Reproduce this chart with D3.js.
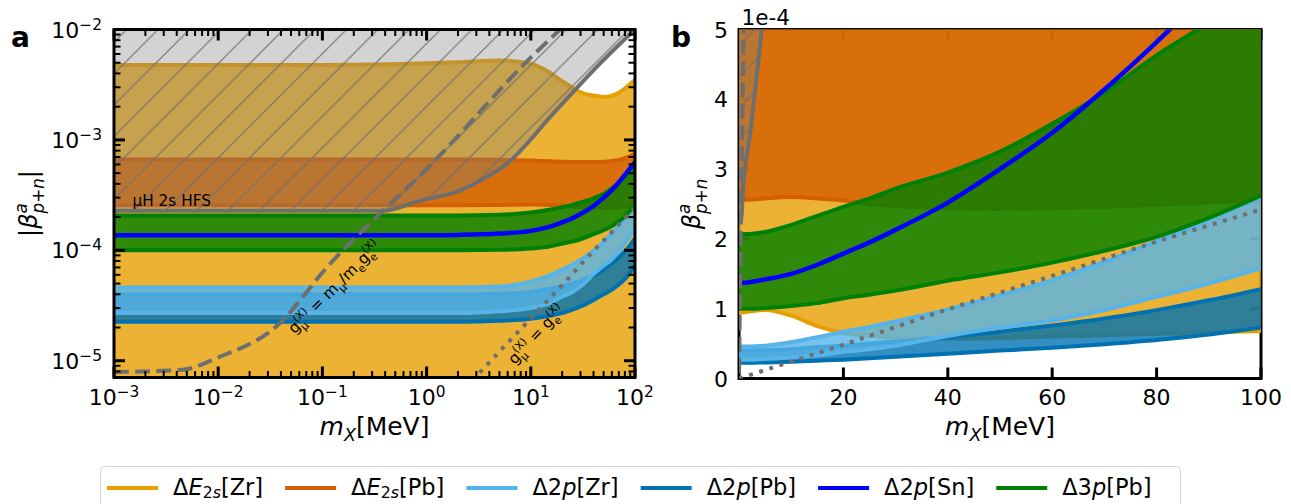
<!DOCTYPE html>
<html><head><meta charset="utf-8">
<script src="https://cdn.jsdelivr.net/npm/d3@7/dist/d3.min.js"></script>
<style>html,body{margin:0;padding:0;background:#fff;overflow:hidden}svg{display:block}</style>
</head><body>
<svg id="chart" width="1291" height="504"></svg>
<script>
// ---------------- data (beta in units of 1e-4, mass in MeV) ----------------
const MASS = [0.001,0.01,0.1,1,2,5,10,15,20,25,30,40,50,60,70,80,90,100];
const E2S_ZR_LO = [0.94,0.94,0.94,0.95,0.96,0.98,0.90,0.75,0.65,0.61,0.59,0.57,0.58,0.60,0.62,0.64,0.66,0.68];
const E2S_ZR_HI = [47.6,47.6,47.8,49.5,50.5,52.5,49.0,41.0,34.0,29.8,27.0,25.2,24.5,25.2,26.8,29.2,32.0,34.8];
const E2S_PB_LO = [2.56,2.56,2.56,2.56,2.56,2.58,2.60,2.58,2.55,2.50,2.47,2.44,2.43,2.44,2.46,2.49,2.52,2.55];
const E2S_PB_HI = [6.65,6.65,6.65,6.65,6.65,6.60,6.50,6.40,6.35,6.30,6.30,6.30,6.35,6.45,6.60,6.85,7.15,7.50];
const P2_ZR_LO = [0.27,0.27,0.27,0.27,0.27,0.28,0.30,0.33,0.38,0.42,0.47,0.61,0.73,0.83,0.98,1.17,1.36,1.58];
const P2_ZR_HI = [0.46,0.46,0.46,0.46,0.46,0.47,0.52,0.59,0.67,0.74,0.82,0.99,1.19,1.41,1.67,1.97,2.27,2.60];
const P2_PB_LO = [0.225,0.225,0.225,0.225,0.225,0.23,0.24,0.255,0.27,0.29,0.31,0.355,0.40,0.44,0.49,0.55,0.63,0.73];
const P2_PB_HI = [0.40,0.40,0.40,0.40,0.40,0.405,0.42,0.45,0.47,0.50,0.53,0.59,0.67,0.76,0.86,0.98,1.12,1.28];
const P2_SN = [1.37,1.37,1.37,1.37,1.38,1.42,1.50,1.63,1.79,1.95,2.13,2.52,3.00,3.52,4.14,4.82,5.55,6.30];
const P3_PB_LO = [1.00,1.00,1.00,1.00,1.00,1.01,1.04,1.08,1.15,1.20,1.26,1.40,1.52,1.66,1.83,2.03,2.30,2.62];
const P3_PB_HI = [2.07,2.07,2.07,2.07,2.07,2.10,2.20,2.33,2.46,2.58,2.72,2.95,3.25,3.65,4.10,4.63,5.10,5.60];
const HFS_MASS = [0.001,0.38,0.87,2.09,3.78,5.87,16.4,49.7,100];
const HFS_BETA = [2.28,2.28,2.82,3.48,4.6,6.07,17.3,52.8,100];
const DASH_MASS = [0.001,0.0046,0.0097,0.0365,0.11,1.2,9.8,19,100];
const DASH_BETA = [0.079,0.083,0.106,0.206,0.698,6.5,54.7,100,540];
const DOT_MASS = [0,2,5,10,20,40,60,80,100];
const DOT_BETA = [0,0.048,0.121,0.242,0.485,0.99,1.47,1.96,2.42];
const UNIT = 1e-4;

const A_X_MAJOR = [1e-3,1e-2,1e-1,1,10,100];
const A_X_EXP = ['−3','−2','−1','0','1','2'];
const A_Y_MAJOR = [1e-5,1e-4,1e-3,1e-2];
const A_Y_EXP = ['−5','−4','−3','−2'];
const B_X_MAJOR = [20,40,60,80,100];
const B_Y_MAJOR = [0,1,2,3,4,5];

const LEGEND = [
  {color:'#E69F00', runs:[{t:'Δ'},{t:'E',it:1},{t:'2',s:.7,dy:.12},{t:'s',s:.7,dy:.12,it:1},{t:'[Zr]'}]},
  {color:'#D55E00', runs:[{t:'Δ'},{t:'E',it:1},{t:'2',s:.7,dy:.12},{t:'s',s:.7,dy:.12,it:1},{t:'[Pb]'}]},
  {color:'#56B4E9', runs:[{t:'Δ2'},{t:'p',it:1},{t:'[Zr]'}]},
  {color:'#0072B2', runs:[{t:'Δ2'},{t:'p',it:1},{t:'[Pb]'}]},
  {color:'#0000FF', runs:[{t:'Δ2'},{t:'p',it:1},{t:'[Sn]'}]},
  {color:'#008000', runs:[{t:'Δ3'},{t:'p',it:1},{t:'[Pb]'}]}
];

// ---------------- setup ----------------
const svg = d3.select('#chart');
const defs = svg.append('defs');
const FONT = "DejaVu Sans, sans-serif";
const GRAY = '#6e6e6e';

function mtext(parent, runs, o){
  const g = parent.append('g').attr('transform',`translate(${o.x},${o.y}) rotate(${o.rotate||0})`);
  const inner = g.append('g');
  let cx=0, prevStart=0, prevEnd=0;
  runs.forEach(r=>{
    const fs = o.size*(r.s||1);
    const start = r.back ? prevStart : cx;
    const t = inner.append('text').attr('x',start).attr('y',(r.dy||0)*o.size)
      .attr('font-family',FONT).attr('font-size',fs)
      .attr('font-style',r.it?'italic':null).attr('font-weight',o.bold?'bold':null)
      .attr('fill',o.fill||'#000').style('white-space','pre').text(r.t);
    let end = start + t.node().getComputedTextLength();
    if(r.back) end = Math.max(end, prevEnd);
    prevStart = start; prevEnd = end; cx = end;
  });
  const off = o.anchor==='middle' ? -cx/2 : (o.anchor==='end' ? -cx : 0);
  inner.attr('transform',`translate(${off},0)`);
  return cx;
}

// hatch pattern
const HS = 31.4;
const pat = defs.append('pattern').attr('id','hatch').attr('patternUnits','userSpaceOnUse')
  .attr('x',30.6).attr('y',0).attr('width',HS).attr('height',HS);
pat.append('path').attr('d',`M-2,2 L2,-2 M0,${HS} L${HS},0 M${HS-2},${HS+2} L${HS+2},${HS-2}`)
  .attr('stroke',GRAY).attr('stroke-width',1.1).attr('fill','none');

const PA = {x0:114, x1:635, y0:29.5, y1:377.5};
const PB = {x0:739, x1:1261, y0:29.5, y1:378.5};
const xa = d3.scaleLog().domain([1e-3,1e2]).range([PA.x0,PA.x1]);
const ya = d3.scaleLog().domain([7.05e-6,1e-2]).range([PA.y1,PA.y0]);
const xb = d3.scaleLinear().domain([0,100]).range([PB.x0,PB.x1]);
const yb = d3.scaleLinear().domain([0,5e-4]).range([PB.y1,PB.y0]);

[['clipA',PA],['clipB',PB]].forEach(([id,P])=>{
  defs.append('clipPath').attr('id',id).append('rect')
    .attr('x',P.x0).attr('y',P.y0).attr('width',P.x1-P.x0).attr('height',P.y1-P.y0);
});

const BANDS = [
  {color:'#E69F00', lo:E2S_ZR_LO, hi:E2S_ZR_HI, floorLog:true},
  {color:'#D55E00', lo:E2S_PB_LO, hi:E2S_PB_HI},
  {color:'#0072B2', lo:P2_PB_LO, hi:P2_PB_HI},
  {color:'#56B4E9', lo:P2_ZR_LO, hi:P2_ZR_HI},
  {color:'#008000', lo:P3_PB_LO, hi:P3_PB_HI}
];

function drawContent(g, xs, ys, isLog){
  const curve = d3.curveMonotoneX;
  BANDS.forEach(b=>{
    const floor = isLog && b.floorLog;
    const pts = MASS.map((m,i)=>({m, lo: floor ? ys.domain()[0]*0.5 : b.lo[i]*UNIT, hi: b.hi[i]*UNIT}));
    const area = d3.area().x(d=>xs(d.m)).y0(d=>ys(d.lo)).y1(d=>ys(d.hi)).curve(curve);
    g.append('path').attr('d',area(pts)).attr('fill',b.color).attr('fill-opacity',0.8);
    const ln = d3.line().x(d=>xs(d.m)).curve(curve);
    g.append('path').attr('d',ln.y(d=>ys(d.hi))(pts)).attr('fill','none').attr('stroke',b.color).attr('stroke-width',4);
    if(!floor) g.append('path').attr('d',ln.y(d=>ys(d.lo))(pts)).attr('fill','none').attr('stroke',b.color).attr('stroke-width',4);
  });
  // Sn line
  const sn = MASS.map((m,i)=>({m, v:P2_SN[i]*UNIT}));
  g.append('path').attr('d',d3.line().x(d=>xs(d.m)).y(d=>ys(d.v)).curve(curve)(sn))
    .attr('fill','none').attr('stroke','#0000FF').attr('stroke-width',4.5);
  // muH 2s HFS excluded region
  const hfs = HFS_MASS.map((m,i)=>({m, v:HFS_BETA[i]*UNIT}));
  const topV = ys.domain()[1];
  const ga = d3.area().x(d=>xs(d.m)).y0(d=>ys(d.v)).y1(()=>ys(topV)).curve(curve);
  g.append('path').attr('d',ga(hfs)).attr('fill','#808080').attr('fill-opacity',0.35);
  g.append('path').attr('d',ga(hfs)).attr('fill','url(#hatch)');
  g.append('path').attr('d',d3.line().x(d=>xs(d.m)).y(d=>ys(d.v)).curve(curve)(hfs))
    .attr('fill','none').attr('stroke',GRAY).attr('stroke-width',4);
  // dashed
  const dash = DASH_MASS.map((m,i)=>({m, v:DASH_BETA[i]*UNIT}));
  g.append('path').attr('d',d3.line().x(d=>xs(d.m)).y(d=>ys(d.v)).curve(curve)(dash))
    .attr('fill','none').attr('stroke',GRAY).attr('stroke-width',4).attr('stroke-dasharray','14.8,6.4');
  // dotted
  let dot = DOT_MASS.map((m,i)=>({m, v:DOT_BETA[i]*UNIT}));
  if(isLog) dot = dot.filter(d=>d.m>0 && d.v>0);
  g.append('path').attr('d',d3.line().x(d=>xs(d.m)).y(d=>ys(d.v)).curve(curve)(dot))
    .attr('fill','none').attr('stroke',GRAY).attr('stroke-width',4).attr('stroke-dasharray','4,6.6');
}

function drawFrame(g, P, xs, ys, xMaj, yMaj, xMin, yMin){
  const tick = (x1,y1,x2,y2,w)=>g.append('line').attr('x1',x1).attr('y1',y1).attr('x2',x2).attr('y2',y2)
    .attr('stroke','#000').attr('stroke-width',w);
  const ML=11, ml=6.5;
  xMaj.forEach(v=>{const x=xs(v); tick(x,P.y1,x,P.y1-ML,3); tick(x,P.y0,x,P.y0+ML,3);});
  xMin.forEach(v=>{const x=xs(v); tick(x,P.y1,x,P.y1-ml,2); tick(x,P.y0,x,P.y0+ml,2);});
  yMaj.forEach(v=>{const y=ys(v); tick(P.x0,y,P.x0+ML,y,3); tick(P.x1,y,P.x1-ML,y,3);});
  yMin.forEach(v=>{const y=ys(v); tick(P.x0,y,P.x0+ml,y,2); tick(P.x1,y,P.x1-ml,y,2);});
  g.append('rect').attr('x',P.x0).attr('y',P.y0).attr('width',P.x1-P.x0).attr('height',P.y1-P.y0)
    .attr('fill','none').attr('stroke','#000').attr('stroke-width',3);
}

// ---------------- panel a ----------------
const gA = svg.append('g');
const cA = gA.append('g').attr('clip-path','url(#clipA)');
drawContent(cA, xa, ya, true);
// annotations
mtext(cA,[{t:'μ'},{t:'H 2s HFS'}],{x:132.5,y:206,size:15.3});
mtext(cA,[{t:'g'},{t:'(X)',s:.7,dy:-.42},{t:'μ',s:.7,dy:.3,back:1},{t:' = m'},{t:'μ',s:.7,dy:.3},{t:'/m'},{t:'e',s:.7,dy:.3},{t:'g'},{t:'(X)',s:.7,dy:-.42},{t:'e',s:.7,dy:.3,back:1}],
  {x:338,y:291,size:15.5,rotate:-45,anchor:'middle'});
mtext(cA,[{t:'g'},{t:'(X)',s:.7,dy:-.42},{t:'μ',s:.7,dy:.3,back:1},{t:' = g'},{t:'(X)',s:.7,dy:-.42},{t:'e',s:.7,dy:.3,back:1}],
  {x:540,y:338,size:15.5,rotate:-47,anchor:'middle'});
const aXmin=[], aYmin=[];
[-3,-2,-1,0,1].forEach(e=>{for(let k=2;k<10;k++) aXmin.push(k*Math.pow(10,e));});
[-6,-5,-4,-3].forEach(e=>{for(let k=2;k<10;k++){const v=k*Math.pow(10,e); if(v>=ya.domain()[0]&&v<=ya.domain()[1]) aYmin.push(v);}});
drawFrame(gA, PA, xa, ya, A_X_MAJOR, A_Y_MAJOR, aXmin, aYmin);
A_X_MAJOR.forEach((v,i)=>mtext(gA,[{t:'10'},{t:A_X_EXP[i],s:.7,dy:-.36}],{x:xa(v),y:405,size:22,anchor:'middle'}));
A_Y_MAJOR.forEach((v,i)=>mtext(gA,[{t:'10'},{t:A_Y_EXP[i],s:.7,dy:-.36}],{x:102,y:ya(v)+8,size:22,anchor:'end'}));
mtext(gA,[{t:'m',it:1},{t:'X',s:.7,dy:.22,it:1},{t:'[MeV]'}],{x:(PA.x0+PA.x1)/2,y:435,size:25,anchor:'middle'});
mtext(gA,[{t:'|'},{t:'β',it:1},{t:'a',s:.7,dy:-.4,it:1},{t:'p+n',s:.7,dy:.3,it:1,back:1},{t:'|'}],{x:37,y:(PA.y0+PA.y1)/2,size:24,anchor:'middle',rotate:-90});
mtext(svg,[{t:'a'}],{x:11,y:47,size:28,bold:true});

// ---------------- panel b ----------------
const gB = svg.append('g');
drawFrame(gB, PB, xb, yb, B_X_MAJOR, B_Y_MAJOR.map(v=>v*UNIT), [], []);
const cB = gB.append('g').attr('clip-path','url(#clipB)');
drawContent(cB, xb, yb, false);
B_X_MAJOR.forEach(v=>mtext(gB,[{t:String(v)}],{x:xb(v),y:405,size:22,anchor:'middle'}));
B_Y_MAJOR.forEach(v=>mtext(gB,[{t:String(v)}],{x:728,y:yb(v*UNIT)+8,size:22,anchor:'end'}));
mtext(gB,[{t:'1e-4'}],{x:741.5,y:25,size:21.5});
mtext(gB,[{t:'m',it:1},{t:'X',s:.7,dy:.22,it:1},{t:'[MeV]'}],{x:(PB.x0+PB.x1)/2,y:435,size:25,anchor:'middle'});
mtext(gB,[{t:'β',it:1},{t:'a',s:.7,dy:-.4,it:1},{t:'p+n',s:.7,dy:.3,it:1,back:1}],{x:700,y:(PB.y0+PB.y1)/2,size:24,anchor:'middle',rotate:-90});
mtext(svg,[{t:'b'}],{x:671,y:47,size:28,bold:true});

// ---------------- legend ----------------
const lg = svg.append('g');
lg.append('rect').attr('x',100.5).attr('y',466.5).attr('width',1080).attr('height',60).attr('rx',4)
  .attr('fill','#fff').attr('fill-opacity',0.8).attr('stroke','#d6d6d6').attr('stroke-width',1);
let lx = 107;
LEGEND.forEach(it=>{
  lg.append('line').attr('x1',lx).attr('x2',lx+51).attr('y1',488).attr('y2',488).attr('stroke',it.color).attr('stroke-width',4);
  const w = mtext(lg,it.runs,{x:lx+66,y:495,size:22.5});
  lx = lx + 66 + w + 22;
});
</script>
</body></html>
